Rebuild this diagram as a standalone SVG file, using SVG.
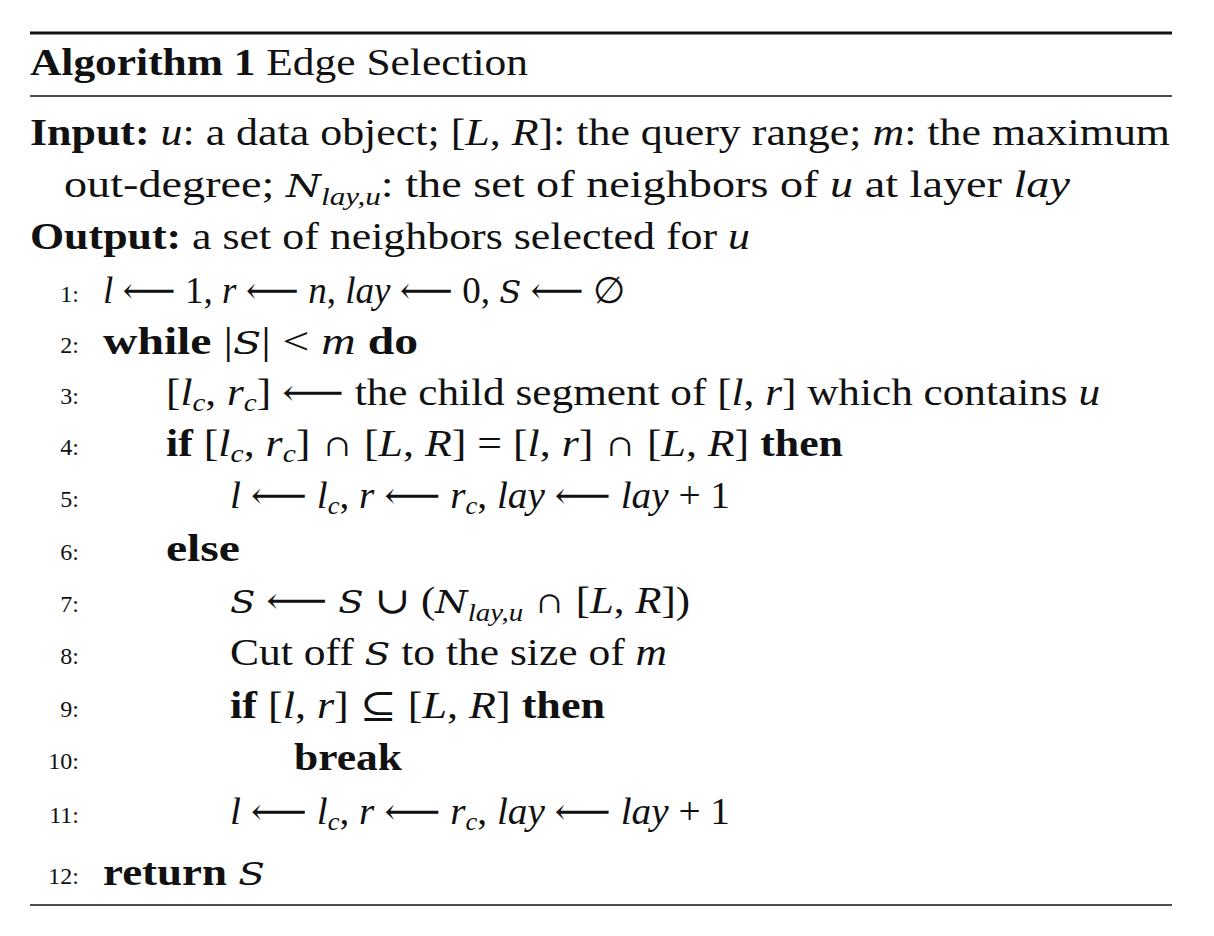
<svg xmlns="http://www.w3.org/2000/svg" width="1214" height="936" viewBox="0 0 1214 936">
<style>
text{font-family:"Liberation Serif","DejaVu Serif",serif;font-size:37px;fill:#111}
.n{font-size:24px;text-anchor:end}
.b{font-weight:bold}
.i{font-style:italic}
.s{font-size:25px;font-style:italic}
.c{font-family:"DejaVu Serif",serif;font-style:italic;font-size:32px}
</style>
<rect width="1214" height="936" fill="#fff"/>
<line x1="30" y1="33" x2="1172" y2="33" stroke="#111" stroke-width="3"/>
<line x1="30" y1="96" x2="1172" y2="96" stroke="#111" stroke-width="1.5"/>
<line x1="30" y1="905" x2="1172" y2="905" stroke="#111" stroke-width="1.5"/>
<text x="30" y="75" textLength="498" lengthAdjust="spacingAndGlyphs"><tspan class="b">Algorithm 1</tspan> Edge Selection</text>
<text x="30" y="145" textLength="1140" lengthAdjust="spacingAndGlyphs"><tspan class="b">Input:</tspan>  <tspan class="i">u</tspan>: a data object; [<tspan class="i">L</tspan>, <tspan class="i">R</tspan>]: the query range; <tspan class="i">m</tspan>: the maximum</text>
<text x="64" y="197" textLength="1006" lengthAdjust="spacingAndGlyphs">out-degree; <tspan class="c">N</tspan><tspan class="s" dy="8">lay,u</tspan><tspan dy="-8">: the set of neighbors of </tspan><tspan class="i">u</tspan> at layer <tspan class="i">lay</tspan></text>
<text x="30" y="249" textLength="720" lengthAdjust="spacingAndGlyphs"><tspan class="b">Output:</tspan>  a set of neighbors selected for <tspan class="i">u</tspan></text>
<g><text class="n" x="79" y="302">1:</text><text class="n" x="79" y="353">2:</text><text class="n" x="79" y="404">3:</text><text class="n" x="79" y="455">4:</text><text class="n" x="79" y="507">5:</text><text class="n" x="79" y="560">6:</text><text class="n" x="79" y="612">7:</text><text class="n" x="79" y="664">8:</text><text class="n" x="79" y="717">9:</text><text class="n" x="79" y="769">10:</text><text class="n" x="79" y="823">11:</text><text class="n" x="79" y="884">12:</text></g>
<text x="103" y="303" textLength="522" lengthAdjust="spacingAndGlyphs"><tspan class="i">l</tspan> ⟵ 1, <tspan class="i">r</tspan> ⟵ <tspan class="i">n</tspan>, <tspan class="i">lay</tspan> ⟵ 0, <tspan class="c">S</tspan> ⟵ ∅</text>
<text x="103" y="354" textLength="315" lengthAdjust="spacingAndGlyphs"><tspan class="b">while</tspan> |<tspan class="c">S</tspan>| &lt; <tspan class="i">m</tspan> <tspan class="b">do</tspan></text>
<text x="166" y="405" textLength="934" lengthAdjust="spacingAndGlyphs">[<tspan class="i">l</tspan><tspan class="s" dy="6">c</tspan><tspan dy="-6">, </tspan><tspan class="i">r</tspan><tspan class="s" dy="6">c</tspan><tspan dy="-6">] ⟵ the child segment of [</tspan><tspan class="i">l</tspan>, <tspan class="i">r</tspan>] which contains <tspan class="i">u</tspan></text>
<text x="166" y="456" textLength="677" lengthAdjust="spacingAndGlyphs"><tspan class="b">if</tspan> [<tspan class="i">l</tspan><tspan class="s" dy="6">c</tspan><tspan dy="-6">, </tspan><tspan class="i">r</tspan><tspan class="s" dy="6">c</tspan><tspan dy="-6">] ∩ [</tspan><tspan class="i">L</tspan>, <tspan class="i">R</tspan>] = [<tspan class="i">l</tspan>, <tspan class="i">r</tspan>] ∩ [<tspan class="i">L</tspan>, <tspan class="i">R</tspan>] <tspan class="b">then</tspan></text>
<text x="230" y="508" textLength="500" lengthAdjust="spacingAndGlyphs"><tspan class="i">l</tspan> ⟵ <tspan class="i">l</tspan><tspan class="s" dy="6">c</tspan><tspan dy="-6">, </tspan><tspan class="i">r</tspan> ⟵ <tspan class="i">r</tspan><tspan class="s" dy="6">c</tspan><tspan dy="-6">, </tspan><tspan class="i">lay</tspan> ⟵ <tspan class="i">lay</tspan> + 1</text>
<text x="166" y="561" class="b" textLength="74" lengthAdjust="spacingAndGlyphs">else</text>
<text x="230" y="613" textLength="460" lengthAdjust="spacingAndGlyphs"><tspan class="c">S</tspan> ⟵ <tspan class="c">S</tspan> ∪ (<tspan class="c">N</tspan><tspan class="s" dy="8">lay,u</tspan><tspan dy="-8"> ∩ [</tspan><tspan class="i">L</tspan>, <tspan class="i">R</tspan>])</text>
<text x="230" y="665" textLength="437" lengthAdjust="spacingAndGlyphs">Cut off <tspan class="c">S</tspan> to the size of <tspan class="i">m</tspan></text>
<text x="230" y="718" textLength="375" lengthAdjust="spacingAndGlyphs"><tspan class="b">if</tspan> [<tspan class="i">l</tspan>, <tspan class="i">r</tspan>] ⊆ [<tspan class="i">L</tspan>, <tspan class="i">R</tspan>] <tspan class="b">then</tspan></text>
<text x="294" y="770" class="b" textLength="108" lengthAdjust="spacingAndGlyphs">break</text>
<text x="230" y="824" textLength="500" lengthAdjust="spacingAndGlyphs"><tspan class="i">l</tspan> ⟵ <tspan class="i">l</tspan><tspan class="s" dy="6">c</tspan><tspan dy="-6">, </tspan><tspan class="i">r</tspan> ⟵ <tspan class="i">r</tspan><tspan class="s" dy="6">c</tspan><tspan dy="-6">, </tspan><tspan class="i">lay</tspan> ⟵ <tspan class="i">lay</tspan> + 1</text>
<text x="103" y="885" textLength="162" lengthAdjust="spacingAndGlyphs"><tspan class="b">return</tspan> <tspan class="c">S</tspan></text>
</svg>
